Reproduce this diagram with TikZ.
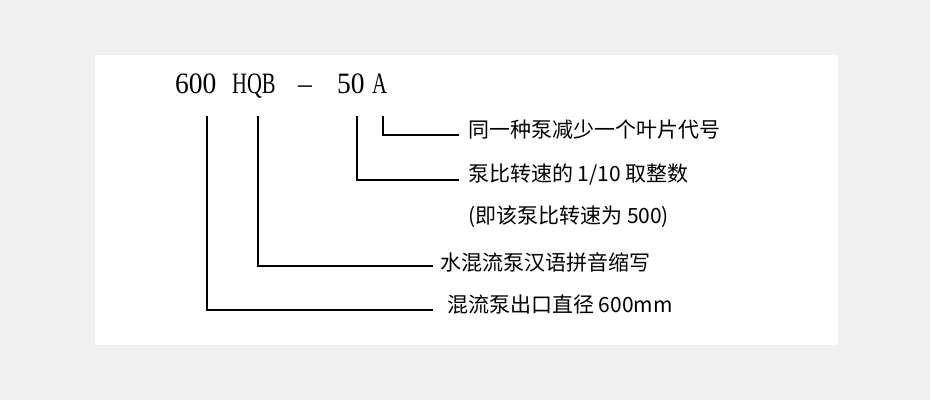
\documentclass[tikz,border=0pt]{standalone}
\usepackage{fontspec}
\setmainfont{Liberation Serif}
\newfontfamily\cjk{Noto Sans CJK SC}
\begin{document}
\begin{tikzpicture}[x=1pt,y=-1pt,
  lbl/.style={anchor=west,inner sep=0pt,font=\cjk\fontsize{21}{24}\selectfont},
  code/.style={anchor=base west,inner sep=0pt,font=\fontsize{29.6}{32}\selectfont,xscale=0.93,transform shape},
  codel/.style={code,xscale=0.75},
  lead/.style={line width=1.6pt,line cap=rect}]
\fill[black!6] (0,0) rectangle (930,400);
\fill[white] (95,55) rectangle (838,345);
\useasboundingbox (0,0) rectangle (930,400);
% code parts
\node[code] (c600) at (175,93) {600};
\node[codel] (chqb) at (232,93) {HQB};
\node[code] (cdash) at (298,93) {\textendash};
\node[code] (c50) at (337,93) {50};
\node[codel] (ca) at (372,93) {A};
% labels
\node[lbl] (l1) at (468,130) {同一种泵减少一个叶片代号};
\node[lbl] (l2) at (468,175) {泵比转速的 1/10 取整数};
\node[lbl] (l3) at (468,217) {(即该泵比转速为 500)};
\node[lbl] (l4) at (440,262) {水混流泵汉语拼音缩写};
\node[lbl] (l5) at (447,305) {混流泵出口直径 600mm};
% leaders
\coordinate (a1) at (383,117); \coordinate (b1) at (458,135);
\coordinate (a2) at (357,117); \coordinate (b2) at (458,180);
\coordinate (a3) at (258,117); \coordinate (b3) at (432,266);
\coordinate (a4) at (207,117); \coordinate (b4) at (432,310);
\draw[lead] (a1) |- (b1);
\draw[lead] (a2) |- (b2);
\draw[lead] (a3) |- (b3);
\draw[lead] (a4) |- (b4);
\end{tikzpicture}
\end{document}
